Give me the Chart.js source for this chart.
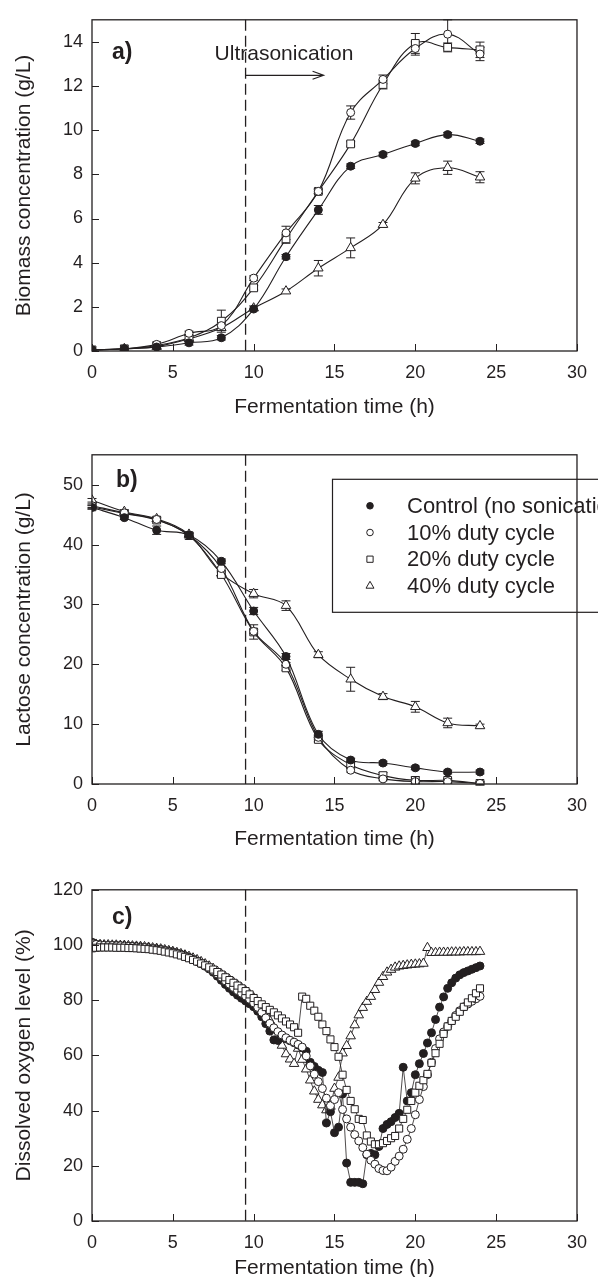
<!DOCTYPE html>
<html>
<head>
<meta charset="utf-8">
<script src="https://cdn.jsdelivr.net/npm/chart.js@4.4.1/dist/chart.umd.min.js"></script>
<style>
  body { margin: 0; background: #fff; width: 598px; height: 1277px; overflow: hidden; position: relative; }
  canvas { position: absolute; left: 0; }
</style>
</head>
<body>
<canvas id="chartA" width="598" height="432" style="top:0px"></canvas>
<canvas id="chartB" width="598" height="432" style="top:435px"></canvas>
<canvas id="chartC" width="598" height="407" style="top:870px"></canvas>
<script>
const INK = '#231f20';
const FONT = '"Liberation Sans", Arial, Helvetica, sans-serif';

// shared time axis
const xTicks = [0, 5, 10, 15, 20, 25, 30];
const ultrasonicationStart = 9.5; // h, dashed line
const seriesNames = ['Control (no sonication)', '10% duty cycle', '20% duty cycle', '40% duty cycle'];

// sampling times for panels a) and b)
const sampleTimes = [0, 2, 4, 6, 8, 10, 12, 14, 16, 18, 20, 22, 24];

// a) biomass (g/L)
const biomassTicks = [0, 2, 4, 6, 8, 10, 12, 14];
const biomassControl = [0.05, 0.1, 0.18, 0.37, 0.6, 1.9, 4.27, 6.39, 8.37, 8.9, 9.4, 9.8, 9.5];
const biomass10 = [0.05, 0.1, 0.3, 0.8, 1.15, 3.3, 5.35, 7.23, 10.8, 12.3, 13.7, 14.35, 13.45];
const biomass20 = [0.05, 0.1, 0.25, 0.6, 1.35, 2.86, 5.08, 7.23, 9.38, 12.07, 13.93, 13.75, 13.64];
const biomass40 = [0.05, 0.1, 0.2, 0.55, 1.05, 1.94, 2.71, 3.75, 4.67, 5.72, 7.82, 8.3, 7.87];
const biomassControlErr = [0, 0, 0, 0.1, 0.1, 0, 0.1, 0.2, 0.1, 0.1, 0.1, 0.1, 0.1];
const biomass10Err = [0, 0, 0, 0.1, 0, 0.1, 0.3, 0.1, 0.3, 0.2, 0.3, 0.65, 0.3];
const biomass20Err = [0, 0, 0, 0.1, 0.5, 0.1, 0.2, 0.1, 0.1, 0.2, 0.45, 0.2, 0.35];
const biomass40Err = [0, 0, 0, 0, 0.1, 0.1, 0.1, 0.35, 0.45, 0.1, 0.25, 0.3, 0.25];

// b) lactose (g/L)
const lactoseTicks = [0, 10, 20, 30, 40, 50];
const lactoseControl = [46.2, 44.5, 42.4, 41.6, 37.2, 28.9, 21.3, 8.3, 4.0, 3.5, 2.7, 2.0, 2.0];
const lactose10 = [46.5, 45.3, 44.2, 41.6, 36.0, 25.5, 20.0, 7.8, 2.3, 0.85, 0.4, 0.4, 0.1];
const lactose20 = [46.3, 45.2, 44.1, 41.5, 35.0, 25.4, 19.4, 7.45, 3.2, 1.4, 0.6, 0.6, 0.1];
const lactose40 = [47.4, 45.5, 44.3, 41.7, 35.2, 31.8, 29.8, 21.6, 17.5, 14.6, 12.9, 10.2, 9.7];
const lactoseControlErr = [0.3, 0.3, 0.7, 0.3, 0.4, 0.6, 0.5, 0.5, 0.3, 0.3, 0.3, 0.3, 0.3];
const lactose10Err = [0.3, 0.3, 0.3, 0.3, 0.3, 0.3, 0.3, 0.3, 0.3, 0.3, 0.3, 0.3, 0.3];
const lactose20Err = [0.3, 0.3, 0.3, 0.3, 0.4, 1.2, 0.4, 0.4, 0.4, 0.5, 0.6, 0.3, 0.2];
const lactose40Err = [0.3, 0.3, 0.3, 0.3, 0.4, 0.7, 0.8, 0.5, 2.0, 0.5, 0.9, 0.8, 0.3];

// c) dissolved oxygen (%), logged every 15 min
const oxygenTicks = [0, 20, 40, 60, 80, 100, 120];
const oxygenTime = [0,0.25,0.5,0.75,1,1.25,1.5,1.75,2,2.25,2.5,2.75,3,3.25,3.5,3.75,4,4.25,4.5,4.75,5,5.25,5.5,5.75,
  6,6.25,6.5,6.75,7,7.25,7.5,7.75,8,8.25,8.5,8.75,9,9.25,9.5,9.75,10,10.25,10.5,10.75,11,11.25,11.5,11.75,
  12,12.25,12.5,12.75,13,13.25,13.5,13.75,14,14.25,14.5,14.75,15,15.25,15.5,15.75,16,16.25,16.5,16.75,17,17.25,17.5,17.75,
  18,18.25,18.5,18.75,19,19.25,19.5,19.75,20,20.25,20.5,20.75,21,21.25,21.5,21.75,22,22.25,22.5,22.75,23,23.25,23.5,23.75,24];
const oxygenControl = [101,100.3,100.1,100,99.9,99.9,99.8,99.8, 99.7,99.6,99.5,99.4,99.3,99.1,99,98.8,
  98.6,98.4,98.1,97.8,97.5,97.1,96.6,96.1, 95.5,94.8,94,93.2,92.3,91.3,90.1,88.7,
  87.2,85.7,84.3,83,81.8,80.7,79.7,78.7, 77.6,76,74,71.5,68.8,65.6,65.4,66.5,
  66,65.3,64.6,63.8,62.8,61.5,57.5,56, 54.6,53.8,35.5,39.6,32,34,46,21,
  14,14,14,13.5,24,24.5,24,27, 33.5,35,36,37.5,39,55.7,43.5,46.5,
  53,57,60.7,64.5,68.2,73,77.5,81.2, 84.3,86.3,88,89.2,90,90.6,91.2,91.8, 92.4];
const oxygen10 = [100.5,100.2,100,99.9,99.8,99.8,99.7,99.7, 99.6,99.5,99.4,99.3,99.2,99.1,98.9,98.7,
  98.5,98.3,98,97.7,97.4,97,96.5,96, 95.4,94.8,94.1,93.3,92.5,91.6,90.6,89.5,
  88.3,87,85.8,84.6,83.5,82.5,81.5,80.3, 79,77.4,75.6,73.6,71.6,70,68.6,67.4,
  66.4,65.5,64.8,64,63,59.8,56.2,53.2, 50.5,48,44.5,41.8,44,46.5,40.4,37,
  34,31.3,29,26.6,24.2,22,20.6,19, 18.3,18.2,19.5,21.6,23.5,26,29.6,33.5,
  38.5,44,48.7,53,57.5,62.5,66,68.5, 70.5,72.5,74.5,76.2,77.6,78.6,79.6,80.5, 81.4];
const oxygen20 = [98.8,99,99.1,99.1,99.1,99.1,99,99, 99,98.9,98.9,98.8,98.7,98.6,98.5,98.3,
  98.1,97.9,97.6,97.3,97,96.6,96.2,95.7, 95.2,94.6,94,93.3,92.6,91.9,91.1,90.2,
  89.3,88.3,87.3,86.3,85.3,84.3,83.3,82.1, 80.8,79.7,78.5,77.5,76.5,75.6,74.5,73.4,
  72.3,71.2,70.2,68.2,81.3,80.5,78,76.2, 74,71.2,68.8,65.8,63,59.5,53,47.5,
  43.5,40.5,37,36.6,31,28.8,27.8,27.8, 28.2,29,30,30.8,33.5,37,40.3,43.5,
  46.5,49,51,53.3,57.3,60.8,64.2,67.8, 70.5,72.5,74,75.8,77.6,79.2,80.7,82.5, 84.3];
const oxygen40 = [100.3,100.2,100.1,100,100,99.9,99.9,99.8, 99.8,99.7,99.6,99.5,99.4,99.3,99.1,98.9,
  98.7,98.5,98.2,97.9,97.6,97.2,96.8,96.3, 95.8,95.2,94.6,93.9,93.1,92.3,91.4,90.4,
  89.4,88.4,87.4,86.4,85.4,84.4,83.3,82.1, 80.8,79.3,77.6,75.3,72.6,69.8,67,63.6,
  60.5,58.6,57,62.5,58.5,55,51,47, 44,42,40.2,41.5,48,52,60.8,63.5,
  67,71,74.6,77.3,79.5,81.3,83.8,86.4, 88.5,90.1,91.1,91.9,92.3,92.5,92.7,92.9,
  93,93.1,93.3,99,97.2,97.2,97.3,97.3, 97.3,97.4,97.4,97.4,97.5,97.5,97.5,97.5, 97.6];

const markers = [
  { pointStyle: 'circle', fill: INK },
  { pointStyle: 'circle', fill: '#fff' },
  { pointStyle: 'rect', fill: '#fff' },
  { pointStyle: 'triangle', fill: '#fff' }
];

function pairs(xs, ys) {
  return xs.map((x, i) => ({ x: x, y: ys[i] }));
}

function series(idx, xs, ys, errs, opts) {
  const m = markers[idx];
  return Object.assign({
    label: seriesNames[idx],
    data: pairs(xs, ys),
    errors: errs,
    borderColor: INK,
    borderWidth: 1.1,
    pointStyle: m.pointStyle,
    pointBackgroundColor: m.fill,
    pointBorderColor: INK,
    pointBorderWidth: 1,
    pointRadius: m.pointStyle === 'circle' ? 4 : 5.5,
    tension: 0.4,
    fill: false
  }, opts || {});
}

// frame + inward tick marks
const frameTicks = {
  id: 'frameTicks',
  afterDraw(chart) {
    const { ctx, chartArea: a, scales: { x, y } } = chart;
    ctx.save();
    ctx.strokeStyle = INK;
    ctx.lineWidth = 1.3;
    ctx.strokeRect(a.left, a.top, a.right - a.left, a.bottom - a.top);
    ctx.beginPath();
    x.ticks.forEach(t => {
      const px = Math.round(x.getPixelForValue(t.value)) + 0.5;
      ctx.moveTo(px, a.bottom); ctx.lineTo(px, a.bottom - 7);
    });
    y.ticks.forEach(t => {
      const py = Math.round(y.getPixelForValue(t.value)) + 0.5;
      ctx.moveTo(a.left, py); ctx.lineTo(a.left + 7, py);
    });
    ctx.lineWidth = 1;
    ctx.stroke();
    ctx.restore();
  }
};

// dashed line where sonication starts
const startLine = {
  id: 'startLine',
  beforeDatasetsDraw(chart) {
    const { ctx, chartArea: a, scales: { x } } = chart;
    const px = x.getPixelForValue(ultrasonicationStart);
    ctx.save();
    ctx.strokeStyle = INK;
    ctx.lineWidth = 1.3;
    ctx.setLineDash([11, 5]);
    ctx.beginPath();
    ctx.moveTo(px, a.top); ctx.lineTo(px, a.bottom);
    ctx.stroke();
    ctx.restore();
  }
};

// error bars with caps
const errorBars = {
  id: 'errorBars',
  beforeDatasetsDraw(chart) {
    const { ctx, scales: { x, y } } = chart;
    ctx.save();
    ctx.strokeStyle = INK;
    ctx.lineWidth = 1;
    chart.data.datasets.forEach(ds => {
      if (!ds.errors) return;
      ds.data.forEach((p, i) => {
        const e = ds.errors[i];
        if (!e) return;
        const px = x.getPixelForValue(p.x);
        const top = y.getPixelForValue(p.y + e);
        const bot = y.getPixelForValue(p.y - e);
        ctx.beginPath();
        ctx.moveTo(px, top); ctx.lineTo(px, bot);
        ctx.moveTo(px - 4.5, top); ctx.lineTo(px + 4.5, top);
        ctx.moveTo(px - 4.5, bot); ctx.lineTo(px + 4.5, bot);
        ctx.stroke();
      });
    });
    ctx.restore();
  }
};

function panelLabel(text, dx, dy) {
  return {
    id: 'panelLabel',
    afterDraw(chart) {
      const { ctx, chartArea: a } = chart;
      ctx.save();
      ctx.fillStyle = INK;
      ctx.font = 'bold 23px ' + FONT;
      ctx.textBaseline = 'middle';
      ctx.fillText(text, a.left + dx, a.top + dy);
      ctx.restore();
    }
  };
}

const sonicationNote = {
  id: 'sonicationNote',
  afterDraw(chart) {
    const { ctx, chartArea: a, scales: { x } } = chart;
    const px = x.getPixelForValue(ultrasonicationStart);
    const ay = a.top + 55.5;
    const end = px + 78;
    ctx.save();
    ctx.fillStyle = INK;
    ctx.strokeStyle = INK;
    ctx.font = '21px ' + FONT;
    ctx.textBaseline = 'alphabetic';
    ctx.fillText('Ultrasonication', px - 31, a.top + 40);
    ctx.lineWidth = 1.2;
    ctx.beginPath();
    ctx.moveTo(px, ay); ctx.lineTo(end, ay);
    ctx.moveTo(end - 11, ay - 4); ctx.lineTo(end, ay); ctx.lineTo(end - 11, ay + 4);
    ctx.stroke();
    ctx.restore();
  }
};

const legendBox = {
  id: 'legendBox',
  afterDatasetsDraw(chart) {
    const { ctx, chartArea: a } = chart;
    const bx = a.left + 240, by = a.top + 24;
    ctx.save();
    ctx.fillStyle = '#fff';
    ctx.strokeStyle = INK;
    ctx.lineWidth = 1.2;
    ctx.fillRect(bx, by, 400, 133);
    ctx.strokeRect(bx + 0.5, by + 0.5, 400, 133);
    const sizes = { circle: 3.3, rect: 4.4, triangle: 4.6 };
    seriesNames.forEach((name, i) => {
      const cy = by + 27 + i * 26.7;
      const m = markers[i];
      ctx.fillStyle = m.fill;
      ctx.strokeStyle = INK;
      ctx.lineWidth = 1;
      Chart.helpers.drawPoint(ctx, { pointStyle: m.pointStyle, rotation: 0, radius: sizes[m.pointStyle], borderWidth: 1 }, bx + 38, cy);
      ctx.fillStyle = INK;
      ctx.font = '22px ' + FONT;
      ctx.textBaseline = 'middle';
      ctx.fillText(name, bx + 75, cy + 1);
    });
    ctx.restore();
  }
};

function scalesFor(yMax, yTicks, yTitle, xHeight, titlePad) {
  const tickFont = { family: FONT, size: 18 };
  const titleFont = { family: FONT, size: 21, lineHeight: 1 };
  return {
    x: {
      type: 'linear', min: 0, max: 30,
      afterBuildTicks: s => { s.ticks = xTicks.map(v => ({ value: v })); },
      afterFit: s => { s.height = xHeight; },
      grid: { display: false, drawTicks: false },
      border: { display: false },
      ticks: { padding: 11, color: INK, font: tickFont, maxRotation: 0, autoSkip: false },
      title: { display: true, text: 'Fermentation time (h)', color: INK, font: titleFont, padding: { top: 0, bottom: titlePad } }
    },
    y: {
      type: 'linear', min: 0, max: yMax,
      afterBuildTicks: s => { s.ticks = yTicks.map(v => ({ value: v })); },
      afterFit: s => { s.width = 92; },
      grid: { display: false, drawTicks: false },
      border: { display: false },
      ticks: { padding: 9, color: INK, font: tickFont, autoSkip: false },
      title: { display: true, text: yTitle, color: INK, font: titleFont, padding: { top: 14, bottom: 0 } }
    }
  };
}

function baseOptions(scales) {
  return {
    responsive: false,
    animation: false,
    devicePixelRatio: 1,
    layout: { padding: { left: 0, right: 13, top: 14, bottom: 0 } },
    plugins: { legend: { display: false }, tooltip: { enabled: false } },
    scales: scales
  };
}

// a) biomass
new Chart(document.getElementById('chartA'), {
  type: 'line',
  data: {
    datasets: [
      series(0, sampleTimes, biomassControl, biomassControlErr),
      series(1, sampleTimes, biomass10, biomass10Err),
      series(2, sampleTimes, biomass20, biomass20Err),
      series(3, sampleTimes, biomass40, biomass40Err)
    ]
  },
  options: baseOptions(scalesFor(15, biomassTicks, 'Biomass concentration (g/L)', 81, 14.5)),
  plugins: [startLine, errorBars, frameTicks, panelLabel('a)', 20, 33), sonicationNote]
});

// b) lactose
new Chart(document.getElementById('chartB'), {
  type: 'line',
  data: {
    datasets: [
      series(0, sampleTimes, lactoseControl, lactoseControlErr, { tension: 0.35 }),
      series(1, sampleTimes, lactose10, lactose10Err, { tension: 0.35 }),
      series(2, sampleTimes, lactose20, lactose20Err, { tension: 0.35 }),
      series(3, sampleTimes, lactose40, lactose40Err, { tension: 0.35 })
    ]
  },
  options: baseOptions(scalesFor(55, lactoseTicks, 'Lactose concentration (g/L)', 83, 17.5)),
  plugins: [startLine, errorBars, frameTicks, panelLabel('b)', 24, 26), legendBox]
});

// c) dissolved oxygen
const doStyle = { tension: 0, borderWidth: 0.8 };
new Chart(document.getElementById('chartC'), {
  type: 'line',
  data: {
    datasets: [
      series(0, oxygenTime, oxygenControl, null, Object.assign({ order: 2, pointRadius: 4 }, doStyle)),
      series(1, oxygenTime, oxygen10, null, Object.assign({ order: 1, pointRadius: 4 }, doStyle)),
      series(2, oxygenTime, oxygen20, null, Object.assign({ order: 0, pointRadius: 5 }, doStyle)),
      series(3, oxygenTime, oxygen40, null, Object.assign({ order: 3, pointRadius: 5.5 }, doStyle))
    ]
  },
  options: baseOptions(scalesFor(120, oxygenTicks, 'Dissolved oxygen level (%)', 56, -1.5)),
  plugins: [startLine, frameTicks, panelLabel('c)', 20, 28)]
});
</script>
</body>
</html>
